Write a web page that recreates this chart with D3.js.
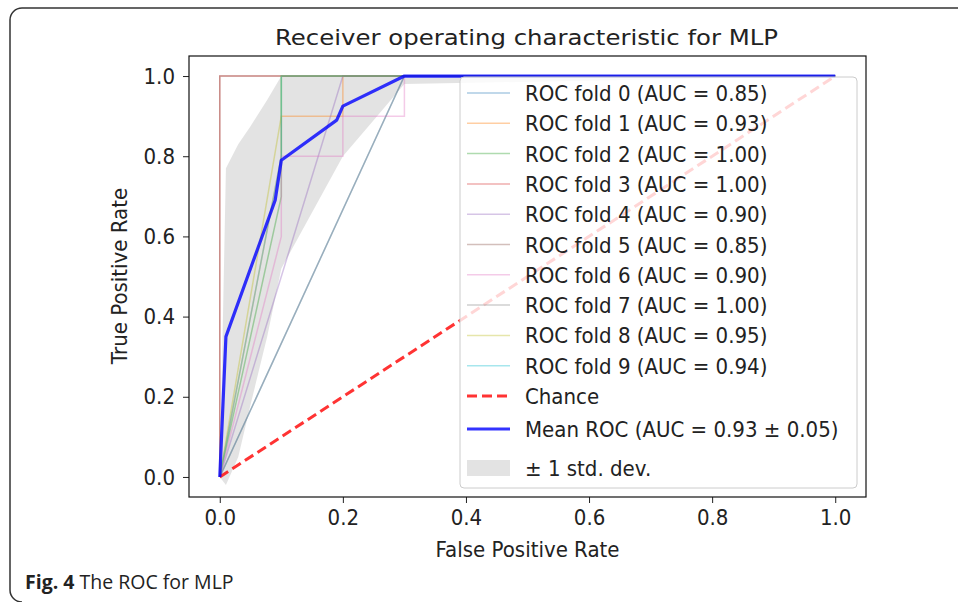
<!DOCTYPE html>
<html>
<head>
<meta charset="utf-8">
<script src="https://cdn.jsdelivr.net/npm/d3@7"></script>
<style>
  body { margin: 0; background: #fff; overflow: hidden; }
  svg { display: block; }
  text { font-family: "DejaVu Sans", sans-serif; fill: #222; }
</style>
</head>
<body>
<svg id="chart" width="958" height="602"></svg>
<script>
// data
const foldNames = ['ROC fold 0', 'ROC fold 1', 'ROC fold 2', 'ROC fold 3', 'ROC fold 4',
                   'ROC fold 5', 'ROC fold 6', 'ROC fold 7', 'ROC fold 8', 'ROC fold 9'];
const foldAuc = [0.85, 0.93, 1.00, 1.00, 0.90, 0.85, 0.90, 1.00, 0.95, 0.94];
const foldFpr = [
  [0, 0.3, 1],
  [0, 0.1, 0.1, 0.2, 0.2, 1],
  [0, 0.1, 0.1, 1],
  [0, 0, 1],
  [0, 0.2, 1],
  [0, 0, 1],
  [0, 0.1, 0.1, 0.2, 0.2, 0.3, 0.3, 1],
  [0, 0.3, 1],
  [0, 0.1, 0.1, 1],
  [0, 0.1, 0.1, 1]
];
const foldTpr = [
  [0, 1, 1],
  [0, 0.8, 0.9, 0.9, 1, 1],
  [0, 0.7, 1, 1],
  [0, 1, 1],
  [0, 1, 1],
  [0, 1, 1],
  [0, 0.6, 0.8, 0.8, 0.9, 0.9, 1, 1],
  [0, 1, 1],
  [0, 0.9, 1, 1],
  [0, 0.8, 1, 1]
];
const meanFpr = [0, 0.01, 0.09, 0.1, 0.19, 0.2, 0.3, 1];
const meanTpr = [0, 0.35, 0.69, 0.79, 0.89, 0.925, 1, 1];
const meanAuc = 0.93, stdAuc = 0.05;
const bandFpr = [0, 0.01, 0.03, 0.05, 0.077, 0.1, 0.2, 0.25, 0.3, 1];
const bandUpper = [0, 0.77, 0.83, 0.875, 0.94, 1, 1, 1, 1, 1];
const bandLower = [0, -0.02, 0.05, 0.18, 0.35, 0.52, 0.8, 0.89, 0.98, 1];
const chanceFpr = [0, 1];
const chanceTpr = [0, 1];
const ticks = [0, 0.2, 0.4, 0.6, 0.8, 1.0];

const colors = d3.schemeCategory10;
const svg = d3.select('#chart');

// the reference text is a little narrower than DejaVu Sans
function squeeze(sel, k) {
  sel.each(function () {
    const w = this.getComputedTextLength();
    d3.select(this).attr('textLength', w * k).attr('lengthAdjust', 'spacingAndGlyphs');
  });
}

// page border: only the left and top edges show in the crop
svg.append('path')
  .attr('d', 'M 970 8 H 22 A 12 12 0 0 0 10 20 V 590 A 12 12 0 0 0 22 602')
  .attr('fill', 'none').attr('stroke', '#333').attr('stroke-width', 1.5);

const pLeft = 189, pRight = 866, pTop = 56, pBottom = 497;
const x = d3.scaleLinear().domain([-0.05, 1.05]).range([pLeft, pRight]);
const y = d3.scaleLinear().domain([-0.05, 1.05]).range([pBottom, pTop]);

svg.append('clipPath').attr('id', 'plot')
  .append('rect').attr('x', pLeft).attr('y', pTop).attr('width', pRight - pLeft).attr('height', pBottom - pTop);

const g = svg.append('g').attr('clip-path', 'url(#plot)');
const line = d3.line().x(d => x(d[0])).y(d => y(d[1]));

// std band
const band = bandFpr.map((f, j) => [f, bandUpper[j]])
  .concat(bandFpr.map((f, j) => [f, bandLower[j]]).reverse());
g.append('path')
  .attr('d', line(band) + 'Z')
  .attr('fill', '#808080').attr('fill-opacity', 0.22);

// fold curves
foldFpr.forEach((fpr, i) => {
  g.append('path')
    .attr('d', line(fpr.map((f, j) => [f, foldTpr[i][j]])))
    .attr('fill', 'none').attr('stroke', colors[i])
    .attr('stroke-opacity', 0.38).attr('stroke-width', 1.5);
});

// chance
g.append('path')
  .attr('d', line(chanceFpr.map((f, j) => [f, chanceTpr[j]])))
  .attr('fill', 'none').attr('stroke', '#ff0000').attr('stroke-opacity', 0.8)
  .attr('stroke-width', 3).attr('stroke-dasharray', '10,5');

// mean
g.append('path')
  .attr('d', line(meanFpr.map((f, j) => [f, meanTpr[j]])))
  .attr('fill', 'none').attr('stroke', '#0000ff').attr('stroke-opacity', 0.8)
  .attr('stroke-width', 3.2).attr('stroke-linejoin', 'round');

// axes
const fmt = d3.format('.1f');
const xAxis = svg.append('g').attr('transform', `translate(0,${pBottom})`)
  .call(d3.axisBottom(x).tickValues(ticks).tickFormat(fmt).tickSize(6).tickPadding(6));
const yAxis = svg.append('g').attr('transform', `translate(${pLeft},0)`)
  .call(d3.axisLeft(y).tickValues(ticks).tickFormat(fmt).tickSize(6).tickPadding(8));
[xAxis, yAxis].forEach(a => {
  a.select('.domain').remove();
  a.selectAll('text').style('font-size', '22px').style('font-family', '"DejaVu Sans", sans-serif').attr('fill', '#222');
  a.selectAll('line').attr('stroke', '#222');
  squeeze(a.selectAll('text'), 0.9);
});
svg.append('rect')
  .attr('x', pLeft).attr('y', pTop).attr('width', pRight - pLeft).attr('height', pBottom - pTop)
  .attr('fill', 'none').attr('stroke', '#111').attr('stroke-width', 1.2);

// labels
svg.append('text').attr('x', 275).attr('y', 45)
  .attr('textLength', 503).attr('lengthAdjust', 'spacingAndGlyphs')
  .style('font-size', '22px')
  .text('Receiver operating characteristic for MLP');
squeeze(svg.append('text').attr('x', (pLeft + pRight) / 2).attr('y', 557)
  .attr('text-anchor', 'middle').style('font-size', '22px')
  .text('False Positive Rate'), 0.9);
squeeze(svg.append('text').attr('transform', 'translate(127,276) rotate(-90)')
  .attr('text-anchor', 'middle').style('font-size', '22px')
  .text('True Positive Rate'), 0.9);

// legend
const lg = svg.append('g');
lg.append('rect').attr('x', 460).attr('y', 77).attr('width', 397).attr('height', 411)
  .attr('rx', 4).attr('fill', '#fff').attr('fill-opacity', 0.8)
  .attr('stroke', '#ccc').attr('stroke-width', 1);

const rows = foldNames.map((n, i) => ({
  label: `${n} (AUC = ${foldAuc[i].toFixed(2)})`, y: 93 + i * 30.3, kind: 'fold', color: colors[i]
}));
rows.push({ label: 'Chance', y: 396, kind: 'chance' });
rows.push({ label: `Mean ROC (AUC = ${meanAuc.toFixed(2)} \u00b1 ${stdAuc.toFixed(2)})`, y: 429, kind: 'mean' });
rows.push({ label: '\u00b1 1 std. dev.', y: 468, kind: 'band' });

rows.forEach(r => {
  if (r.kind === 'band') {
    lg.append('rect').attr('x', 467).attr('y', r.y - 8).attr('width', 43).attr('height', 16)
      .attr('fill', '#808080').attr('fill-opacity', 0.22);
  } else {
    const l = lg.append('line').attr('x1', 467).attr('x2', 510).attr('y1', r.y).attr('y2', r.y);
    if (r.kind === 'fold') l.attr('stroke', r.color).attr('stroke-opacity', 0.38).attr('stroke-width', 1.5);
    if (r.kind === 'chance') l.attr('stroke', '#ff0000').attr('stroke-opacity', 0.8).attr('stroke-width', 3).attr('stroke-dasharray', '10,5');
    if (r.kind === 'mean') l.attr('stroke', '#0000ff').attr('stroke-opacity', 0.8).attr('stroke-width', 3.2);
  }
  squeeze(lg.append('text').attr('x', 525).attr('y', r.y + 8).style('font-size', '22px').text(r.label), 0.9);
});

// caption
const cap = svg.append('text').attr('x', 25).attr('y', 589)
  .style('font-family', '"Open Sans", sans-serif').style('font-size', '19.5px');
cap.append('tspan').style('font-weight', 'bold').text('Fig. 4');
cap.append('tspan').text(' The ROC for MLP');
</script>
</body>
</html>
